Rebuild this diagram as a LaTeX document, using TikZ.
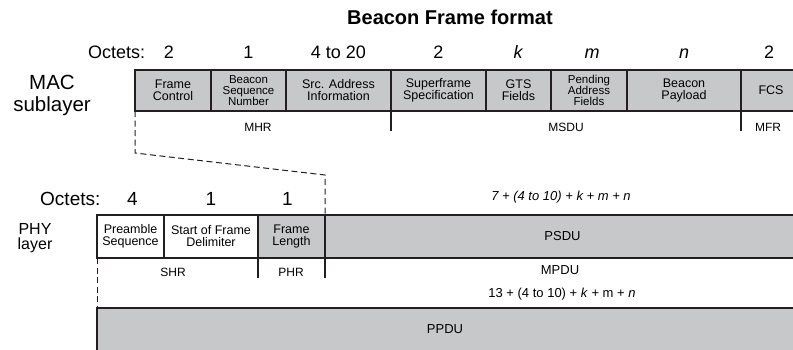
\documentclass[tikz,border=0pt]{standalone}
\usepackage{fontspec}
\setmainfont{Liberation Sans}
\usetikzlibrary{positioning}

\definecolor{fieldgray}{RGB}{199,200,202}
\definecolor{edge}{RGB}{35,31,32}

\tikzset{
  field/.style={draw=edge, line width=1.2pt, fill=fieldgray, outer sep=0pt,
    inner sep=1pt, minimum height=41pt, align=center,
    font=\fontsize{12.5}{12}\selectfont},
  blank/.style={field, fill=white},
  tall/.style={minimum height=43pt},
  three/.style={font=\fontsize{11.5}{11}\selectfont},
  octet/.style={anchor=base, inner sep=0pt, font=\fontsize{18}{20}\selectfont},
  part/.style={inner sep=0pt, font=\fontsize{12}{14}\selectfont},
  layer/.style={inner sep=0pt, align=center},
  tick/.style={draw=edge, line width=1.1pt},
  fold/.style={draw=edge, line width=1pt, dash pattern=on 6pt off 3.5pt}
}

\begin{document}
\begin{tikzpicture}[x=1pt, y=-1pt]
    \useasboundingbox (0, 0) rectangle (793, 349);
    \clip (0, 0) rectangle (793, 349);

    \node[anchor=base, font=\bfseries\fontsize{20}{24}\selectfont] (title) at (450, 24) {Beacon Frame format};

    % MAC sublayer
    \node[layer, font=\fontsize{20.5}{22}\selectfont] (mac) at (52, 95) {MAC\\sublayer};
    \node[field, minimum width=76pt, anchor=north west] (fc) at (135, 70) {Frame\\Control};
    \node[field, three, minimum width=75pt, right=0pt of fc] (bsn) {Beacon\\Sequence\\Number};
    \node[field, minimum width=105pt, right=0pt of bsn] (src) {Src. Address\\Information};
    \node[field, minimum width=95pt, right=0pt of src] (sfs) {Superframe\\Specification};
    \node[field, minimum width=65pt, right=0pt of sfs] (gts) {GTS\\Fields};
    \node[field, three, minimum width=76pt, right=0pt of gts] (pend) {Pending\\Address\\Fields};
    \node[field, minimum width=114pt, right=0pt of pend] (pay) {Beacon\\Payload};
    \node[field, minimum width=60pt, right=0pt of pay] (fcs) {FCS};

    \node[octet, anchor=base west] (oct1) at (88, 58) {Octets:};
    \node[octet] (n-fc) at ([xshift=-4pt, yshift=12pt]fc.north) {2};
    \node[octet] (n-bsn) at ([yshift=12pt]bsn.north) {1};
    \node[octet] (n-src) at ([yshift=12pt]src.north) {4 to 20};
    \node[octet] (n-sfs) at ([yshift=12pt]sfs.north) {2};
    \node[octet] (n-gts) at ([yshift=12pt]gts.north) {\textit{k}};
    \node[octet] (n-pend) at ([xshift=3pt, yshift=12pt]pend.north) {\textit{m}};
    \node[octet] (n-pay) at ([yshift=12pt]pay.north) {\textit{n}};
    \node[octet] (n-fcs) at ([xshift=-2pt, yshift=12pt]fcs.north) {2};

    \node[part] (mhr) at (258, 127) {MHR};
    \node[part] (msdu) at (566, 127) {MSDU};
    \node[part] (mfr) at (768, 127) {MFR};
    \coordinate (msdu-l) at (391, 131);
    \coordinate (mfr-l) at (741, 131);
    \draw[tick] (sfs.south west) -- (msdu-l);
    \draw[tick] (fcs.south west) -- (mfr-l);

    % PHY layer
    \node[layer, font=\fontsize{16}{15}\selectfont] (phy) at (35, 238) {PHY\\layer};
    \node[blank, tall, minimum width=67pt, anchor=north west] (pre) at (97, 215) {Preamble\\Sequence};
    \node[blank, tall, minimum width=94pt, right=0pt of pre] (sfd) {Start of Frame\\Delimiter};
    \node[field, tall, minimum width=67pt, right=0pt of sfd] (fl) {Frame\\Length};
    \node[field, tall, minimum width=475pt, right=0pt of fl, font=\fontsize{13}{14}\selectfont] (psdu) {PSDU};

    \node[octet, anchor=base west, font=\fontsize{19}{21}\selectfont] (oct2) at (40, 205) {Octets:};
    \node[octet, font=\fontsize{19}{21}\selectfont] (n-pre) at ([xshift=2pt, yshift=10pt]pre.north) {4};
    \node[octet, font=\fontsize{19}{21}\selectfont] (n-sfd) at ([yshift=10pt]sfd.north) {1};
    \node[octet, font=\fontsize{19}{21}\selectfont] (n-fl) at ([xshift=-4pt, yshift=10pt]fl.north) {1};
    \node[part, font=\itshape\fontsize{13}{14}\selectfont] (len1) at (561, 197) {7 + (4 to 10) + k + m + n};

    \node[part] (shr) at (173, 272) {SHR};
    \node[part] (phr) at (291, 272) {PHR};
    \node[part, font=\fontsize{13}{14}\selectfont] (mpdu) at (560, 270) {MPDU};
    \node[part, font=\fontsize{13}{14}\selectfont] (len2) at (562, 294) {13 + (4 to 10) + \textit{k} + m + \textit{n}};
    \coordinate (phr-l) at (258, 278);
    \coordinate (phr-r) at (325, 278);
    \draw[tick] (sfd.south east) -- (phr-l);
    \draw[tick] (fl.south east) -- (phr-r);

    \node[field, minimum width=710pt, minimum height=45pt, anchor=north west] (ppdu) at (97, 308) {};
    \node[part, font=\fontsize{13}{14}\selectfont] (ppdu-t) at (445, 329) {PPDU};

    % dashed fold lines
    \coordinate (k1) at (135, 153);
    \coordinate (k2) at (325, 175);
    \draw[fold] (fc.south west) -- (k1) -- (k2) -- (fl.north east);
    \draw[fold] (pre.south west) -- (ppdu.north west);
\end{tikzpicture}
\end{document}
